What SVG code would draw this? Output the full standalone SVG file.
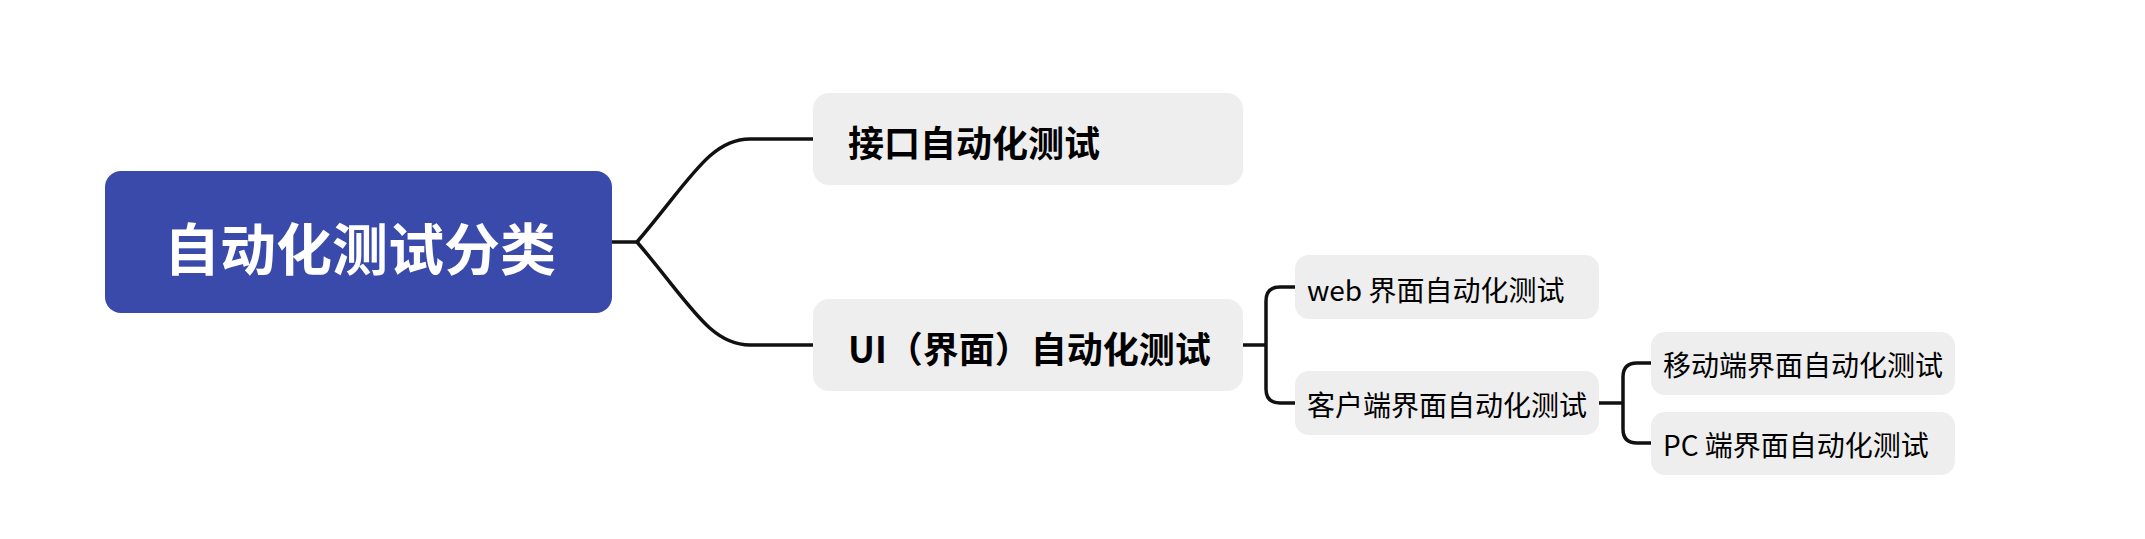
<svg xmlns="http://www.w3.org/2000/svg" width="2145" height="539" viewBox="0 0 2145 539">
<style>
.t{font-family:"Noto Sans CJK SC","Noto Sans",sans-serif;dominant-baseline:central}
.root{fill:#3A4AAA}
.box{fill:#EEEEEE}
.l1{font-size:36px;font-weight:bold;fill:#000}
.l2{font-size:28px;fill:#000}
.conn{fill:none;stroke:#111;stroke-width:3.5;stroke-linecap:butt;stroke-linejoin:round}
</style>
<rect width="2145" height="539" fill="#fff"/>
<g id="connectors">
<path class="conn" d="M612,242 L637,242"/>
<path class="conn" d="M637,242 C690,180 710,139 750,139 L813,139"/>
<path class="conn" d="M637,242 C690,304 710,345 750,345 L813,345"/>
<path class="conn" d="M1243,345 L1266,345"/>
<path class="conn" d="M1295,287 L1280,287 Q1266,287 1266,301 L1266,389 Q1266,403 1280,403 L1295,403"/>
<path class="conn" d="M1599,403 L1623,403"/>
<path class="conn" d="M1651,363 L1637,363 Q1623,363 1623,377 L1623,429 Q1623,443 1637,443 L1651,443"/>
</g>
<g id="root">
<rect class="root" x="105" y="171" width="507" height="142" rx="16"/>
<text class="t" x="360" y="245" font-size="56" font-weight="bold" fill="#fff" text-anchor="middle">自动化测试分类</text>
</g>
<g id="n-api">
<rect class="box" x="813" y="93" width="430" height="92" rx="16"/>
<text class="t l1" x="848" y="141">接口自动化测试</text>
</g>
<g id="n-ui">
<rect class="box" x="813" y="299" width="430" height="92" rx="16"/>
<text class="t l1" x="848" y="347">UI（界面）自动化测试</text>
</g>
<g id="n-web">
<rect class="box" x="1295" y="255" width="304" height="64" rx="14"/>
<text class="t l2" x="1307" y="289">web 界面自动化测试</text>
</g>
<g id="n-client">
<rect class="box" x="1295" y="371" width="304" height="64" rx="14"/>
<text class="t l2" x="1307" y="404">客户端界面自动化测试</text>
</g>
<g id="n-mobile">
<rect class="box" x="1651" y="332" width="304" height="63" rx="14"/>
<text class="t l2" x="1663" y="364">移动端界面自动化测试</text>
</g>
<g id="n-pc">
<rect class="box" x="1651" y="412" width="304" height="63" rx="14"/>
<text class="t l2" x="1663" y="444">PC 端界面自动化测试</text>
</g>
</svg>
